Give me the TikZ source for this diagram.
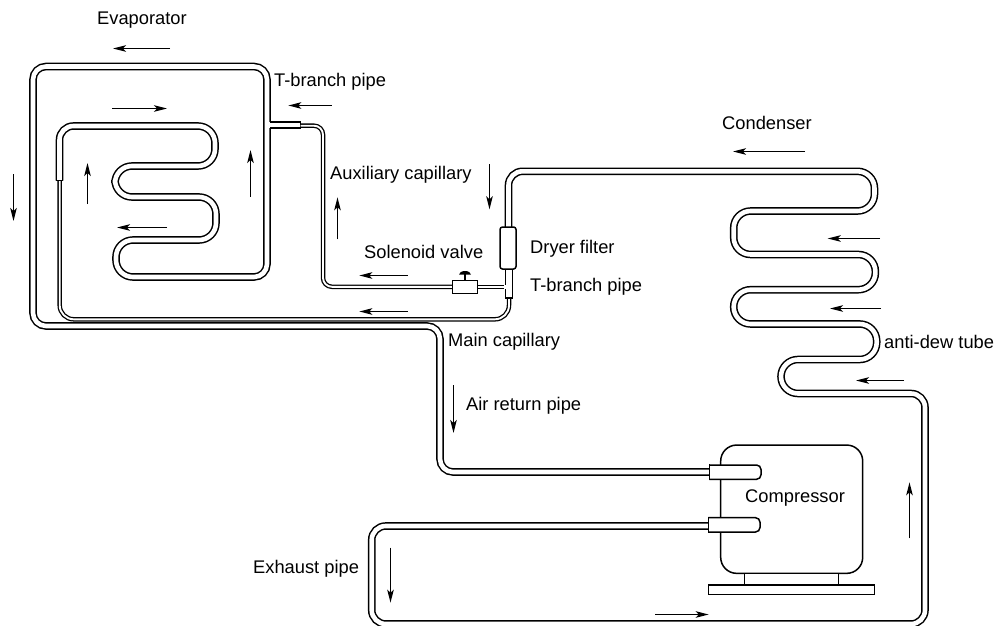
\documentclass[tikz,border=0pt]{standalone}
\usepackage{fontspec}
\setmainfont{Liberation Sans}
\usetikzlibrary{arrows.meta}
\tikzset{
  x=1pt,y=-1pt,
  pipe/.style={draw=black,line width=1.5pt,double=white,double distance=4.6pt,rounded corners=14pt},
  wall/.style={draw=black,line width=1.5pt},
  capil/.style={draw=black,line width=1.3pt,double=white,double distance=1.9pt,rounded corners=9pt},
  solid part/.style={draw=black,line width=1.5pt,fill=white},
  flow/.style={draw=black,line width=1.4pt,-{Stealth[length=13pt,width=6.5pt,inset=3pt]}},
  lbl/.style={anchor=base west,inner sep=0pt,font=\fontsize{18.3}{22}\selectfont},
}
\begin{document}
\begin{tikzpicture}
\useasboundingbox (0,0) rectangle (997,626);
% evaporator tube with air return pipe
\draw[pipe] (59.5,180.7) -- (59.5,126) [rounded corners=17pt] -- (215,126) -- (215,166) -- (115,166) -- (115,197) -- (216,197) -- (216,240) -- (116,240) -- (116,277) [rounded corners=13pt] -- (267,277) -- (267,66.5) -- (33,66.5) -- (33,326) -- (440,326) -- (440,472) -- (709,472);
\draw[wall] (56,180.7) -- (63,180.7);
% main capillary
\draw[capil,rounded corners=14pt] (59.7,181) -- (59.7,319.3) -- (509,319.3) -- (509,298);
% T-branch at the evaporator
\fill[white] (268,122) rectangle (300.5,128);
\draw[wall] (270,121.8) -- (300.5,121.8) -- (300.5,128.2) -- (270,128.2);
% auxiliary capillary
\draw[capil] (300.5,125.7) -- (323,125.7) -- (323,286.8) -- (452.3,286.8);
\draw[capil] (477.7,287) -- (505,287);
% condenser and exhaust line
\draw[pipe] (508.5,227) -- (508.5,171.3) [rounded corners=17pt] -- (874.5,171.3) -- (874.5,211) -- (733.7,211) -- (733.7,254.5) -- (875.4,254.5) -- (875.4,289.7) -- (733.7,289.7) -- (733.7,324) -- (876.7,324) -- (876.7,359.5) -- (781,359.5) -- (781,393.5) [rounded corners=14pt] -- (925,393.5) -- (925,624) -- (371.7,624) -- (371.7,526) -- (708,526);
% T-branch at the dryer
\fill[white] (505.5,268) rectangle (512.5,298);
\draw[wall] (505.5,268) -- (505.5,284.6);
\draw[wall] (505.5,289.2) -- (505.5,298) -- (512.5,298) -- (512.5,268);
\fill[white] (504,285.2) rectangle (507,288.7);
% dryer filter and solenoid valve
\node[solid part,rounded corners=2.5pt,minimum width=16pt,minimum height=42pt,inner sep=0pt] (dryer) at (508,248) {};
\node[solid part,minimum width=25.4pt,minimum height=13pt,inner sep=0pt] (valve) at (465,287.2) {};
\coordinate (stemtop) at (465,273);
\draw[wall] (valve.north) -- (stemtop);
\fill[black] (459,274.7) arc[start angle=180,end angle=0,x radius=6pt,y radius=3.7pt] -- cycle;
% compressor
\node[solid part,rounded corners=16pt,minimum width=142pt,minimum height=128.3pt,inner sep=0pt] (body) at (791.7,509.2) {};
\node[solid part,minimum width=94pt,minimum height=11.7pt,inner sep=0pt] (mount) at (791.3,579.2) {};
\node[solid part,minimum width=165.6pt,minimum height=9.3pt,inner sep=0pt] (plate) at (791.5,589.7) {};
\draw[solid part,rounded corners=4.5pt] (709.3,465) -- (761,465) -- (761,479.3) -- (709.3,479.3);
\draw[wall] (709.3,464.3) -- (709.3,480);
\draw[solid part,rounded corners=4.5pt] (708.3,517.7) -- (760,517.7) -- (760,532) -- (708.3,532);
\draw[wall] (708.3,517) -- (708.3,532.7);
% flow arrows
\draw[flow] (170,48.5) -- (113,48.5);
\draw[flow] (112,108.5) -- (167,108.5);
\draw[flow] (167,227.5) -- (117,227.5);
\draw[flow] (87.5,204) -- (87.5,163);
\draw[flow] (250.5,196.7) -- (250.5,150);
\draw[flow] (13.5,174) -- (13.5,221);
\draw[flow] (331.7,105.5) -- (288.3,105.5);
\draw[flow] (337.5,239.3) -- (337.5,197.3);
\draw[flow] (489.5,164.3) -- (489.5,209.3);
\draw[flow] (407.7,275.5) -- (359.3,275.5);
\draw[flow] (407.7,311.5) -- (359.3,311.5);
\draw[flow] (805,151.5) -- (733,151.5);
\draw[flow] (880,238.5) -- (827.7,238.5);
\draw[flow] (881,308.5) -- (830,308.5);
\draw[flow] (904,380.5) -- (856,380.5);
\draw[flow] (909.5,538.3) -- (909.5,482.3);
\draw[flow] (655,614.5) -- (708.7,614.5);
\draw[flow] (390.5,547.7) -- (390.5,602.7);
\draw[flow] (453.5,385) -- (453.5,433);
% labels
\node[lbl] (l1) at (97,25) {Evaporator};
\node[lbl] (l2) at (274,87) {T-branch pipe};
\node[lbl] (l3) at (330,179) {Auxiliary capillary};
\node[lbl] (l4) at (364,258.5) {Solenoid valve};
\node[lbl] (l5) at (530,253) {Dryer filter};
\node[lbl] (l6) at (530,291) {T-branch pipe};
\node[lbl] (l7) at (448,346) {Main capillary};
\node[lbl] (l8) at (466,410) {Air return pipe};
\node[lbl] (l9) at (722,129) {Condenser};
\node[lbl] (l10) at (884,348) {anti-dew tube};
\node[lbl] (l11) at (745,502) {Compressor};
\node[lbl] (l12) at (253,573) {Exhaust pipe};
\end{tikzpicture}
\end{document}
